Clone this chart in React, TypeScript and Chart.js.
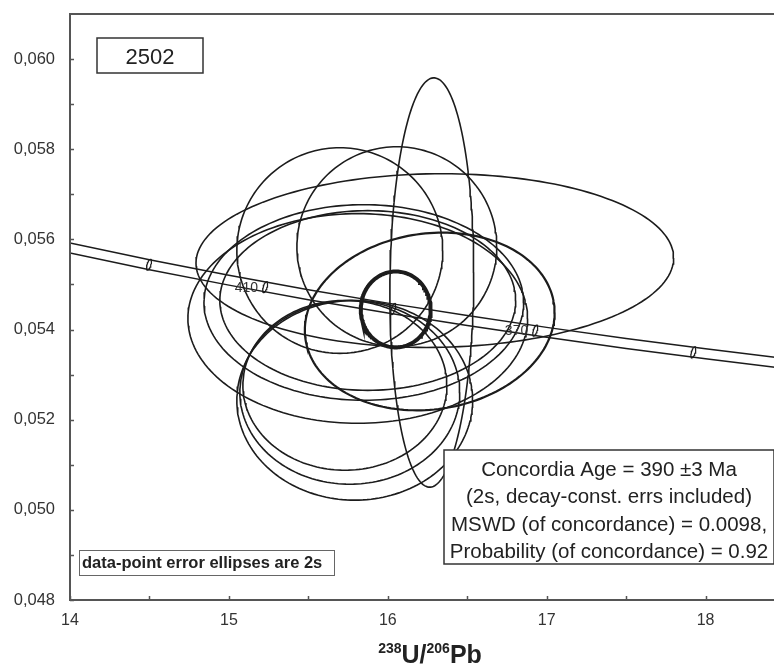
import React, { useEffect, useRef } from "react";
import { Chart, registerables } from "chart.js";

Chart.register(...registerables);

// ---- axis ticks ----
const X_TICKS = [14, 15, 16, 17, 18];
const X_MINOR = [14.5, 15.5, 16.5, 17.5, 18.5];
const Y_TICKS = [0.048, 0.05, 0.052, 0.054, 0.056, 0.058, 0.06];
const Y_MINOR = [0.049, 0.051, 0.053, 0.055, 0.057, 0.059];

// ---- data-point error ellipses (centre, 2s half-extent, error correlation) ----
const ELL_X = [16.277, 16.296, 15.698, 16.057, 16.264, 15.792, 15.761, 15.73, 15.811, 15.849, 15.874];
const ELL_Y = [0.055043, 0.05553, 0.055752, 0.05584, 0.054179, 0.05243, 0.052607, 0.052762, 0.054246, 0.0546, 0.054644];
const ELL_SX = [0.264, 1.503, 0.648, 0.629, 0.786, 0.742, 0.692, 0.642, 1.069, 1.006, 0.931];
const ELL_SY = [0.00454, 0.001927, 0.002281, 0.002215, 0.001971, 0.002215, 0.002038, 0.001883, 0.002326, 0.00217, 0.001993];
const ELL_RHO = [0.05, 0.03, 0, 0, 0.1, 0, 0, 0, 0, 0, 0];

// ---- concordia age ellipse ----
const AGE_ELL_X = 16.05;
const AGE_ELL_Y = 0.054445;
const AGE_ELL_SX = 0.22;
const AGE_ELL_SY = 0.000842;
const AGE_ELL_RHO = 0;

// ---- concordia band (238U/206Pb vs 207Pb/206Pb) ----
const CONC_X = [14, 14.5, 15, 15.5, 16, 16.5, 17, 17.5, 18, 18.5];
const CONC_Y_UPPER = [0.055918, 0.055548, 0.055205, 0.054883, 0.054586, 0.054309, 0.054048, 0.053799, 0.053572, 0.053357];
const CONC_Y_LOWER = [0.055698, 0.055328, 0.054985, 0.054663, 0.054366, 0.054089, 0.053828, 0.053579, 0.053352, 0.053137];

// ---- age markers on concordia (Ma) ----
const AGE_MA = [430, 410, 390, 370, 350];
const AGE_X = [14.497, 15.228, 16.034, 16.928, 17.923];
const AGE_Y = [0.055439, 0.054941, 0.054458, 0.053978, 0.053495];
const AGE_LABELS = ["", "410", "", "370", ""];
const MARK_SX = 0.0157;
const MARK_SY = 0.000122;
const MARK_RHO = 0.6;

// ---- texts ----
const SAMPLE = "2502";
const RESULT_LINES = [
  "Concordia Age = 390 \u00b13 Ma",
  "(2s, decay-const. errs included)",
  "MSWD (of concordance) = 0.0098,",
  "Probability (of concordance) = 0.92",
];
const NOTE = "data-point error ellipses are 2s";

const FONT = 'Arial, "Liberation Sans", sans-serif';
const INK = "#1c1c1c";

function ellipse(x0: number, y0: number, sx: number, sy: number, rho: number, n = 180) {
  const pts: { x: number; y: number }[] = [];
  const r = Math.sqrt(1 - rho * rho);
  for (let i = 0; i <= n; i++) {
    const t = (2 * Math.PI * i) / n;
    pts.push({ x: x0 + sx * Math.cos(t), y: y0 + sy * (rho * Math.cos(t) + r * Math.sin(t)) });
  }
  return pts;
}

const overlay = {
  id: "overlay",
  afterDraw(chart: any) {
    const ctx = chart.ctx as CanvasRenderingContext2D;
    const ca = chart.chartArea;
    const xs = chart.scales.x;
    const ys = chart.scales.y;
    ctx.save();

    // age labels
    ctx.fillStyle = "#333";
    ctx.font = `14px ${FONT}`;
    ctx.textAlign = "right";
    ctx.textBaseline = "middle";
    AGE_LABELS.forEach((lab, i) => {
      if (!lab) return;
      ctx.fillText(lab, xs.getPixelForValue(AGE_X[i]) - 7, ys.getPixelForValue(AGE_Y[i]) + 1);
    });

    // frame
    ctx.strokeStyle = "#555";
    ctx.lineWidth = 2;
    ctx.beginPath();
    ctx.rect(ca.left, ca.top, ca.right - ca.left, ca.bottom - ca.top);
    ctx.stroke();

    // inner ticks
    ctx.lineWidth = 1.5;
    ctx.beginPath();
    [...X_TICKS, ...X_MINOR].forEach((v) => {
      const px = Math.round(xs.getPixelForValue(v)) + 0.5;
      ctx.moveTo(px, ca.bottom);
      ctx.lineTo(px, ca.bottom - 4);
    });
    [...Y_TICKS, ...Y_MINOR].forEach((v) => {
      const py = Math.round(ys.getPixelForValue(v)) + 0.5;
      ctx.moveTo(ca.left, py);
      ctx.lineTo(ca.left + 4, py);
    });
    ctx.stroke();

    // sample box
    ctx.fillStyle = "#fff";
    ctx.strokeStyle = "#333";
    ctx.lineWidth = 1.5;
    ctx.fillRect(97, 38, 106, 35);
    ctx.strokeRect(97, 38, 106, 35);
    ctx.fillStyle = "#222";
    ctx.font = `22px ${FONT}`;
    ctx.textAlign = "center";
    ctx.textBaseline = "alphabetic";
    ctx.fillText(SAMPLE, 150, 64);

    // result box
    ctx.fillStyle = "#fff";
    ctx.fillRect(444, 450, 330, 114);
    ctx.strokeStyle = "#333";
    ctx.strokeRect(444, 450, 330, 114);
    ctx.fillStyle = "#222";
    ctx.font = `20.5px ${FONT}`;
    RESULT_LINES.forEach((l, i) => ctx.fillText(l, 609, 476 + i * 27.3));

    // note box
    ctx.fillStyle = "#fff";
    ctx.fillRect(79, 550, 255, 25);
    ctx.strokeStyle = "#666";
    ctx.lineWidth = 1;
    ctx.strokeRect(79.5, 550.5, 255, 25);
    ctx.fillStyle = "#222";
    ctx.font = `bold 16.5px ${FONT}`;
    ctx.textAlign = "left";
    ctx.fillText(NOTE, 82, 568);

    // x title 238U/206Pb
    ctx.fillStyle = "#222";
    const parts: [string, boolean][] = [["238", true], ["U/", false], ["206", true], ["Pb", false]];
    const fSup = `bold 14px ${FONT}`;
    const fMain = `bold 25px ${FONT}`;
    let total = 0;
    parts.forEach(([t, sup]) => {
      ctx.font = sup ? fSup : fMain;
      total += ctx.measureText(t).width;
    });
    let x = 430 - total / 2;
    parts.forEach(([t, sup]) => {
      ctx.font = sup ? fSup : fMain;
      ctx.fillText(t, x, sup ? 653 : 663);
      x += ctx.measureText(t).width;
    });
    ctx.restore();
  },
};

export default function App() {
  const ref = useRef<HTMLCanvasElement>(null);
  useEffect(() => {
    if (!ref.current) return;
    const line = (data: any[], width: number) => ({
      type: "line" as const,
      data,
      borderColor: INK,
      borderWidth: width,
      pointRadius: 0,
      pointHoverRadius: 0,
      fill: false,
      tension: 0,
      showLine: true,
    });
    const datasets: any[] = [];
    ELL_X.forEach((_, i) => {
      datasets.push(line(ellipse(ELL_X[i], ELL_Y[i], ELL_SX[i], ELL_SY[i], ELL_RHO[i]), i === 4 ? 2.2 : 1.6));
    });
    datasets.push(line(ellipse(AGE_ELL_X, AGE_ELL_Y, AGE_ELL_SX, AGE_ELL_SY, AGE_ELL_RHO), 4));
    datasets.push(line(CONC_X.map((x, i) => ({ x, y: CONC_Y_UPPER[i] })), 1.5));
    datasets.push(line(CONC_X.map((x, i) => ({ x, y: CONC_Y_LOWER[i] })), 1.5));
    AGE_MA.forEach((_, i) => {
      datasets.push(line(ellipse(AGE_X[i], AGE_Y[i], MARK_SX, MARK_SY, MARK_RHO, 40), 1.2));
    });

    const chart = new Chart(ref.current, {
      type: "scatter",
      data: { datasets },
      plugins: [overlay],
      options: {
        animation: false,
        responsive: false,
        devicePixelRatio: 1,
        layout: { autoPadding: false, padding: { top: 14, right: 15, left: 0, bottom: 0 } },
        plugins: { legend: { display: false }, tooltip: { enabled: false } },
        scales: {
          x: {
            type: "linear",
            min: 14,
            max: 18.5,
            grid: { display: false, drawTicks: false },
            border: { display: false },
            afterBuildTicks: (s: any) => {
              s.ticks = X_TICKS.map((value) => ({ value }));
            },
            afterFit: (s: any) => {
              s.height = 64;
              s.paddingLeft = 0;
              s.paddingRight = 0;
            },
            ticks: {
              color: "#333",
              font: { family: FONT, size: 16 },
              padding: 11,
              maxRotation: 0,
              autoSkip: false,
              callback: (v: any) => String(v),
            },
          },
          y: {
            type: "linear",
            min: 0.048,
            max: 0.061,
            grid: { display: false, drawTicks: false },
            border: { display: false },
            afterBuildTicks: (s: any) => {
              s.ticks = Y_TICKS.map((value) => ({ value }));
            },
            afterFit: (s: any) => {
              s.width = 70;
              s.paddingTop = 0;
              s.paddingBottom = 0;
            },
            ticks: {
              color: "#333",
              font: { family: FONT, size: 16.5 },
              padding: 15,
              autoSkip: false,
              callback: (v: any) => Number(v).toFixed(3).replace(".", ","),
            },
          },
        },
      },
    });
    return () => chart.destroy();
  }, []);

  return (
    <div style={{ position: "absolute", left: 0, top: 0, width: 774, height: 664, overflow: "hidden", background: "#fff" }}>
      <canvas ref={ref} width={800} height={664} style={{ width: 800, height: 664, display: "block" }} />
    </div>
  );
}
